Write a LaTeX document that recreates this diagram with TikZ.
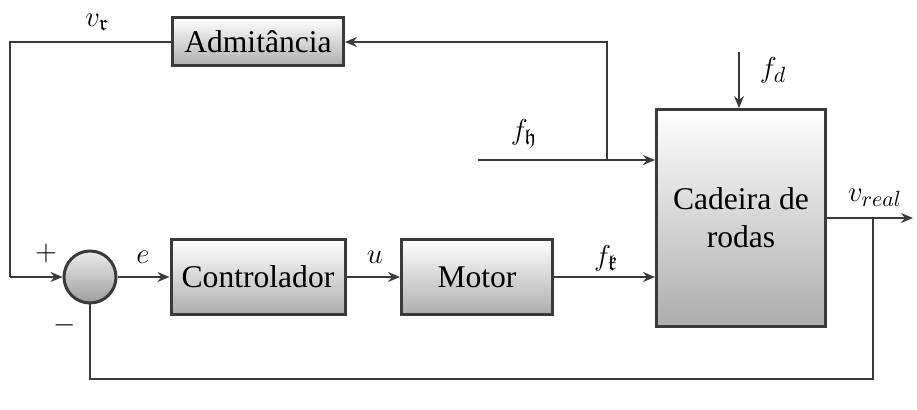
\documentclass[tikz,border=0pt]{standalone}
\usepackage{amssymb}
\usepackage{fontspec}
\setmainfont{Liberation Serif}
\usetikzlibrary{arrows.meta}
\definecolor{ln}{HTML}{3A3A3A}
\tikzset{
  blk/.style={draw=ln, line width=1.5pt, rectangle, top color=white, bottom color=black!32, inner sep=0pt, font=\fontsize{15.8}{19}\selectfont, align=center},
  sumc/.style={draw=ln, line width=1.5pt, circle, top color=white!92!black, bottom color=black!38, minimum size=26pt, inner sep=0pt},
  con/.style={draw=ln, line width=1pt},
  arr/.style={con, -{Stealth[length=6pt,width=5pt,inset=2pt]}},
  lbl/.style={font=\fontsize{15.8}{19}\selectfont, inner sep=0pt}
}
\begin{document}
\begin{tikzpicture}[x=0.5pt,y=-0.5pt]
\useasboundingbox (0,0) rectangle (917,410);
\node[blk, minimum width=85.5pt, minimum height=24pt] (adm) at (258,42) {Admitância};
\node[blk, minimum width=87pt, minimum height=37.5pt] (ctrl) at (258,277) {Controlador};
\node[blk, minimum width=75.5pt, minimum height=37.5pt] (motor) at (477,277) {Motor};
\node[blk, minimum width=84.5pt, minimum height=108.5pt] (cad) at (741,218) {Cadeira de\\rodas};
\node[sumc] (sum) at (90,277) {};
\coordinate (lc) at (10,277);
\coordinate (fhs) at (478,160);
\coordinate (fhb) at (607,160);
\coordinate (fds) at (739,52);
\coordinate (oe) at (913,218);
\coordinate (br) at (873,218);
\coordinate (fbl) at (90,379);
\draw[con] (adm.west) -| (lc);
\draw[arr] (lc) -- (sum.west);
\draw[arr] (sum.east) -- (ctrl.west);
\draw[arr] (ctrl.east) -- (motor.west);
\draw[arr] (motor.east) -- (motor.east -| cad.west);
\draw[arr] (fhs) -- (fhs -| cad.west);
\draw[arr] (fhb) |- (adm.east);
\draw[arr] (fds) -- (fds |- cad.north);
\draw[arr] (cad.east) -- (oe);
\draw[con] (br) |- (fbl) -- (sum.south);
\node[lbl] (lvr) at (97,22) {$v_{\mathfrak{r}}$};
\node[lbl] (lplus) at (46,253) {$+$};
\node[lbl] (lminus) at (65,325) {$-$};
\node[lbl] (le) at (143,257) {$e$};
\node[lbl] (lu) at (375,257) {$u$};
\node[lbl] (lfk) at (606,258) {$f_{\mathfrak{k}}$};
\node[lbl] (lfh) at (524,134) {$f_{\mathfrak{h}}$};
\node[lbl] (lfd) at (773,70) {$f_d$};
\node[lbl] (lvreal) at (875,198) {$v_{real}$};
\end{tikzpicture}
\end{document}
